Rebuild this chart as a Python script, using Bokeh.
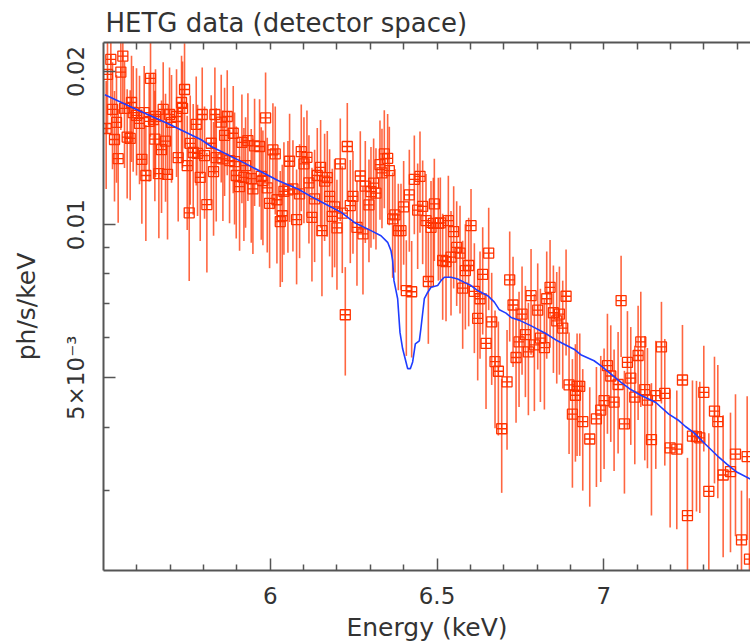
from bokeh.plotting import figure
from bokeh.models import ColumnDataSource, FixedTicker, LinearAxis
from bokeh.embed import file_html
from bokeh.resources import INLINE

# ---- data ----
energy = [
    5.508, 5.512, 5.522, 5.527, 5.533, 5.539, 5.544, 5.552, 5.558, 5.563,
    5.571, 5.580, 5.584, 5.589, 5.599, 5.608, 5.615, 5.622, 5.627, 5.637,
    5.641, 5.650, 5.654, 5.656, 5.666, 5.674, 5.679, 5.686, 5.692, 5.698,
    5.704, 5.719, 5.724, 5.734, 5.737, 5.743, 5.751, 5.757, 5.760, 5.769,
    5.778, 5.782, 5.790, 5.796, 5.803, 5.810, 5.823, 5.830, 5.834, 5.838,
    5.853, 5.858, 5.863, 5.871, 5.878, 5.889, 5.893, 5.898, 5.908, 5.915,
    5.921, 5.926, 5.933, 5.943, 5.948, 5.953, 5.968, 5.973, 5.978, 5.986,
    5.991, 5.998, 6.008, 6.015, 6.020, 6.030, 6.036, 6.041, 6.053, 6.058,
    6.068, 6.079, 6.088, 6.093, 6.101, 6.110, 6.116, 6.125, 6.133, 6.141,
    6.151, 6.155, 6.163, 6.171, 6.178, 6.186, 6.193, 6.200, 6.210, 6.216,
    6.225, 6.231, 6.240, 6.248, 6.260, 6.270, 6.278, 6.285, 6.296, 6.302,
    6.310, 6.317, 6.329, 6.335, 6.342, 6.352, 6.357, 6.367, 6.374, 6.384,
    6.392, 6.400, 6.408, 6.417, 6.424, 6.432, 6.442, 6.449, 6.457, 6.467,
    6.474, 6.482, 6.489, 6.492, 6.504, 6.510, 6.517, 6.527, 6.534, 6.542,
    6.550, 6.559, 6.569, 6.577, 6.585, 6.595, 6.602, 6.612, 6.622, 6.629,
    6.637, 6.647, 6.655, 6.664, 6.674, 6.684, 6.694, 6.710, 6.718, 6.728,
    6.737, 6.746, 6.755, 6.765, 6.774, 6.782, 6.792, 6.802, 6.810, 6.822,
    6.829, 6.839, 6.849, 6.859, 6.867, 6.877, 6.887, 6.896, 6.906, 6.915,
    6.920, 6.928, 6.937, 6.958, 6.978, 6.991, 7.001, 7.011, 7.021, 7.031,
    7.043, 7.052, 7.062, 7.071, 7.081, 7.093, 7.103, 7.111, 7.123, 7.131,
    7.143, 7.156, 7.173, 7.183, 7.199, 7.219, 7.236, 7.251, 7.266, 7.278,
    7.288, 7.300, 7.315, 7.332, 7.342, 7.358, 7.380, 7.395, 7.413, 7.430,
    7.437,
]

flux = [
    0.01545, 0.01973, 0.02112, 0.01684, 0.01470, 0.01588, 0.01348, 0.01994, 0.02144, 0.01692,
    0.01486, 0.01477, 0.01738, 0.01660, 0.01639, 0.01581, 0.01344, 0.01660, 0.01249, 0.01595,
    0.01938, 0.01609, 0.01472, 0.01631, 0.01260, 0.01404, 0.01684, 0.01459, 0.01255, 0.01646,
    0.01588, 0.01631, 0.01354, 0.01738, 0.01692, 0.01843, 0.01306, 0.01055, 0.01444, 0.01386,
    0.01574, 0.01380, 0.01238, 0.01646, 0.01367, 0.01095, 0.01445, 0.01271, 0.01646, 0.01354,
    0.01590, 0.01346, 0.01498, 0.01631, 0.01336, 0.01512, 0.01330, 0.01249, 0.01188, 0.01451,
    0.01238, 0.01306, 0.01463, 0.01231, 0.01175, 0.01428, 0.01424, 0.01244, 0.01221, 0.01621,
    0.01181, 0.01101, 0.01402, 0.01377, 0.01119, 0.01014, 0.01041, 0.01162, 0.01170, 0.01332,
    0.01175, 0.01023, 0.01149, 0.01392, 0.01316, 0.01356, 0.01208, 0.01033, 0.01124, 0.01249,
    0.01296, 0.00973, 0.01218, 0.01237, 0.01136, 0.01038, 0.01084, 0.00985, 0.01316, 0.01053,
    0.00665, 0.01424, 0.01090, 0.01136, 0.00988, 0.01246, 0.00959, 0.01190, 0.01093, 0.01161,
    0.01206, 0.01153, 0.01312, 0.01264, 0.01377, 0.01350, 0.01277, 0.01026, 0.01045, 0.00973,
    0.00973, 0.01084, 0.00742, 0.01144, 0.00738, 0.01227, 0.01068, 0.01244, 0.01086, 0.01018,
    0.00773, 0.00988, 0.01006, 0.01098, 0.01006, 0.01008, 0.00850, 0.00846, 0.01018, 0.00863,
    0.00969, 0.00902, 0.00879, 0.00750, 0.00812, 0.00831, 0.00995, 0.00739, 0.00654, 0.00715,
    0.00798, 0.00584, 0.00879, 0.00644, 0.00538, 0.00515, 0.00397, 0.00491, 0.00779, 0.00695,
    0.00548, 0.00588, 0.00667, 0.00608, 0.00562, 0.00725, 0.00580, 0.00679, 0.00598, 0.00573,
    0.00715, 0.00753, 0.00671, 0.00647, 0.00667, 0.00626, 0.00723, 0.00484, 0.00424, 0.00462,
    0.00481, 0.00481, 0.00410, 0.00379, 0.00415, 0.00432, 0.00451, 0.00528, 0.00504, 0.00448,
    0.00485, 0.00709, 0.00406, 0.00536, 0.00499, 0.00458, 0.00553, 0.00588, 0.00474, 0.00452,
    0.00378, 0.00461, 0.00575, 0.00466, 0.00364, 0.00362, 0.00495, 0.00268, 0.00384, 0.00383,
    0.00381, 0.00468, 0.00299, 0.00430, 0.00410, 0.00322, 0.00327, 0.00354, 0.00240, 0.00350,
    0.00220,
]

flux_err = [
    0.0037, 0.0046, 0.0048, 0.0040, 0.0036, 0.0038, 0.0034, 0.0046, 0.0049, 0.0040,
    0.0036, 0.0036, 0.0041, 0.0039, 0.0039, 0.0038, 0.0034, 0.0039, 0.0032, 0.0038,
    0.0045, 0.0038, 0.0036, 0.0039, 0.0032, 0.0035, 0.0040, 0.0035, 0.0032, 0.0039,
    0.0038, 0.0039, 0.0034, 0.0041, 0.0040, 0.0043, 0.0033, 0.0028, 0.0035, 0.0034,
    0.0038, 0.0034, 0.0031, 0.0039, 0.0034, 0.0029, 0.0035, 0.0032, 0.0039, 0.0034,
    0.0038, 0.0033, 0.0036, 0.0038, 0.0033, 0.0036, 0.0033, 0.0031, 0.0030, 0.0035,
    0.0031, 0.0032, 0.0035, 0.0031, 0.0030, 0.0034, 0.0034, 0.0031, 0.0031, 0.0037,
    0.0030, 0.0028, 0.0033, 0.0033, 0.0028, 0.0026, 0.0027, 0.0029, 0.0029, 0.0032,
    0.0029, 0.0026, 0.0029, 0.0033, 0.0031, 0.0032, 0.0029, 0.0026, 0.0028, 0.0030,
    0.0031, 0.0025, 0.0029, 0.0029, 0.0027, 0.0025, 0.0026, 0.0024, 0.0030, 0.0025,
    0.0016, 0.0031, 0.0025, 0.0026, 0.0023, 0.0028, 0.0023, 0.0027, 0.0025, 0.0026,
    0.0027, 0.0026, 0.0029, 0.0028, 0.0030, 0.0030, 0.0028, 0.0024, 0.0024, 0.0023,
    0.0023, 0.0025, 0.0019, 0.0026, 0.0019, 0.0027, 0.0025, 0.0028, 0.0025, 0.0024,
    0.0019, 0.0023, 0.0023, 0.0025, 0.0023, 0.0023, 0.0020, 0.0020, 0.0023, 0.0020,
    0.0022, 0.0021, 0.0021, 0.0018, 0.0019, 0.0020, 0.0018, 0.0018, 0.0016, 0.0017,
    0.0019, 0.0015, 0.0020, 0.0016, 0.0014, 0.0013, 0.0010, 0.0013, 0.0019, 0.0017,
    0.0014, 0.0015, 0.0016, 0.0015, 0.0014, 0.0017, 0.0015, 0.0016, 0.0015, 0.0014,
    0.0017, 0.0018, 0.0016, 0.0016, 0.0016, 0.0015, 0.0017, 0.0013, 0.0012, 0.0012,
    0.0013, 0.0013, 0.0011, 0.0010, 0.0011, 0.0012, 0.0012, 0.0014, 0.0013, 0.0012,
    0.0013, 0.0016, 0.0011, 0.0014, 0.0013, 0.0012, 0.0014, 0.0015, 0.0013, 0.0012,
    0.0011, 0.0013, 0.0013, 0.0013, 0.0011, 0.0011, 0.0014, 0.0008, 0.0011, 0.0011,
    0.0011, 0.0011, 0.0009, 0.0012, 0.0012, 0.0010, 0.0010, 0.0011, 0.0006, 0.0011,
    0.0007,
]

model_energy = [
    5.504, 5.594, 5.694, 5.793, 5.823, 5.923, 6.023, 6.083, 6.123, 6.168,
    6.213, 6.252, 6.302, 6.332, 6.352, 6.362, 6.367, 6.371, 6.382, 6.389,
    6.397, 6.407, 6.412, 6.420, 6.427, 6.435, 6.447, 6.452, 6.462, 6.470,
    6.482, 6.502, 6.512, 6.522, 6.542, 6.562, 6.582, 6.602, 6.622, 6.652,
    6.672, 6.687, 6.707, 6.722, 6.746, 6.781, 6.826, 6.861, 6.911, 6.931,
    6.971, 6.991, 7.021, 7.051, 7.081, 7.111, 7.156, 7.195, 7.225, 7.245,
    7.270, 7.305, 7.345, 7.370, 7.400, 7.440,
]
model_flux = [
    0.01800, 0.01690, 0.01578, 0.01468, 0.01424, 0.01321, 0.01221, 0.01175, 0.01135, 0.01095,
    0.01057, 0.01010, 0.00973, 0.00951, 0.00923, 0.00889, 0.00850, 0.00776, 0.00715, 0.00614,
    0.00570, 0.00537, 0.00521, 0.00521, 0.00537, 0.00583, 0.00591, 0.00627, 0.00715, 0.00732,
    0.00753, 0.00759, 0.00776, 0.00788, 0.00788, 0.00782, 0.00770, 0.00759, 0.00742, 0.00725,
    0.00704, 0.00680, 0.00670, 0.00657, 0.00649, 0.00633, 0.00611, 0.00591, 0.00569, 0.00555,
    0.00540, 0.00528, 0.00509, 0.00490, 0.00474, 0.00462, 0.00447, 0.00424, 0.00412, 0.00401,
    0.00390, 0.00370, 0.00349, 0.00338, 0.00326, 0.00316,
]

x_major = [6.0, 6.5, 7.0]
x_minor = [5.6, 5.7, 5.8, 5.9, 6.1, 6.2, 6.3, 6.4, 6.6, 6.7, 6.8, 6.9, 7.1, 7.2, 7.3, 7.4]
x_all = [5.6, 5.7, 5.8, 5.9, 6.0, 6.1, 6.2, 6.3, 6.4, 6.5, 6.6, 6.7, 6.8, 6.9, 7.0, 7.1, 7.2, 7.3, 7.4]
y_major = [0.005, 0.01, 0.02]
y_minor = [0.003, 0.004, 0.006, 0.007, 0.008, 0.009]
y_labels = {0.005: "5×10⁻³", 0.01: "0.01", 0.02: "0.02"}

TITLE = "HETG data (detector space)"
XLABEL = "Energy (keV)"
YLABEL = "ph/s/keV"

# ---- styling ----
FONT = "DejaVu Sans"
TXT = "#333333"
AX = "#555555"
RED = "#ff3300"
BLUE = "#1f3cff"

lo = [f - e for f, e in zip(flux, flux_err)]
hi = [f + e for f, e in zip(flux, flux_err)]
src = ColumnDataSource(dict(x=energy, y=flux, lo=lo, hi=hi))

p = figure(width=750, height=644, x_range=(5.5, 7.44), y_range=(0.00209, 0.0228),
           y_axis_type="log", output_backend="svg", toolbar_location=None,
           min_border_left=103, min_border_right=0, min_border_top=42, min_border_bottom=74)
p.background_fill_color = "white"
p.border_fill_color = "white"
p.outline_line_color = None
p.xgrid.visible = False
p.ygrid.visible = False

p.title.text = TITLE
p.title.align = "left"
p.title.text_font = FONT
p.title.text_font_size = "26px"
p.title.text_font_style = "normal"
p.title.text_color = TXT
p.title.offset = 2

# bottom axis
xa = p.xaxis[0]
xa.ticker = FixedTicker(ticks=x_major, minor_ticks=x_minor)
xa.major_label_overrides = {6.0: "6", 6.5: "6.5", 7.0: "7"}
xa.axis_label = XLABEL
xa.axis_label_text_font = FONT
xa.axis_label_text_font_size = "25px"
xa.axis_label_text_font_style = "normal"
xa.axis_label_text_color = TXT
xa.axis_label_standoff = 6
xa.major_label_text_font = FONT
xa.major_label_text_font_size = "23px"
xa.major_label_text_color = TXT
xa.major_label_standoff = 16

# top axis: tick marks only (no labels)
ta = LinearAxis(ticker=FixedTicker(ticks=[], minor_ticks=x_all))
p.add_layout(ta, "above")

ya = p.yaxis[0]
ya.ticker = FixedTicker(ticks=y_major, minor_ticks=y_minor)
ya.major_label_overrides = y_labels
ya.major_label_orientation = "vertical"
ya.axis_label = YLABEL
ya.axis_label_text_font = FONT
ya.axis_label_text_font_size = "25px"
ya.axis_label_text_font_style = "normal"
ya.axis_label_text_color = TXT
ya.axis_label_standoff = 20
ya.major_label_text_font = FONT
ya.major_label_text_font_size = "23px"
ya.major_label_text_color = TXT
ya.major_label_standoff = 14

for ax in [xa, ta, ya]:
    ax.axis_line_color = AX
    ax.axis_line_width = 2
    ax.major_tick_line_color = AX
    ax.minor_tick_line_color = AX
    ax.major_tick_line_width = 1.5
    ax.minor_tick_line_width = 1.5
    ax.major_tick_in = 12
    ax.major_tick_out = 0
    ax.minor_tick_in = 6
    ax.minor_tick_out = 0
ta.minor_tick_in = 7

# error bars
p.segment(x0="x", y0="lo", x1="x", y1="hi", source=src,
          line_color=RED, line_width=1.6, line_alpha=0.75)
# data markers
p.scatter("x", "y", source=src, marker="square_cross", size=10,
          line_color=RED, fill_color=None, line_width=1.3)
# model
p.line(model_energy, model_flux, line_color=BLUE, line_width=1.6)

open("out.html", "w").write(file_html(p, INLINE))
